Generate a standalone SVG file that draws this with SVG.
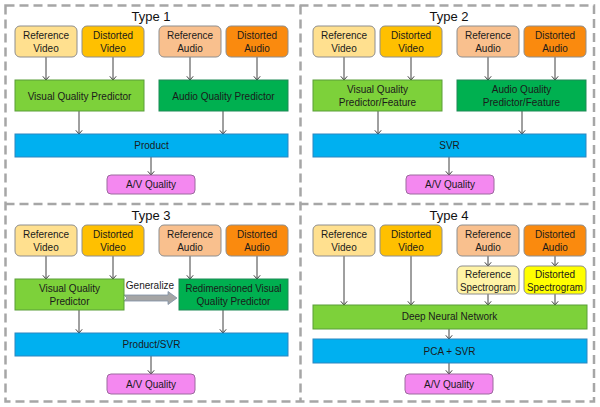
<svg xmlns="http://www.w3.org/2000/svg" width="600" height="407" viewBox="0 0 600 407">
  <style>
    .frame { fill: none; stroke: #A6A6A6; stroke-width: 2.5; stroke-dasharray: 9 5; }
    .title { font-family: "Liberation Sans", Arial, sans-serif; font-size: 13px; fill: #111; text-anchor: middle; }
    .lbl { font-family: "Liberation Sans", Arial, sans-serif; font-size: 10px; fill: #1a1a1a; text-anchor: middle; }
    .src { stroke: #8E8E8E; stroke-width: 1; }
    .refvid { fill: #FFE08F; }
    .distvid { fill: #FFC000; }
    .refaud { fill: #F9C08E; }
    .distaud { fill: #FA8A0E; }
    .refspec { fill: #FFF3A6; }
    .distspec { fill: #FFFF00; }
    .lgreen { fill: #7DD13A; stroke: #5A9E38; stroke-width: 1; }
    .dgreen { fill: #00B050; stroke: #1F8A56; stroke-width: 1; }
    .blue { fill: #00B0F0; stroke: #2C86C0; stroke-width: 1; }
    .av { fill: #F488F0; stroke: #9C6B9E; stroke-width: 1; }
    .conn line { stroke: #404040; stroke-width: 1; marker-end: url(#tip); }
  </style>
  <defs>
    <marker id="tip" markerWidth="8" markerHeight="8" refX="4.5" refY="4" orient="auto" markerUnits="userSpaceOnUse">
      <path d="M0.8,0.8 L4.5,4 L0.8,7.2" fill="none" stroke="#404040" stroke-width="1"/>
    </marker>
  </defs>

  <rect width="600" height="407" fill="#ffffff"/>

  <!-- dashed outer frame and quadrant dividers -->
  <g id="frame">
    <rect class="frame" x="5.5" y="5.5" width="588.5" height="396"/>
    <line class="frame" x1="300.5" y1="5.5" x2="300.5" y2="401.5"/>
    <line class="frame" x1="5.5" y1="204" x2="594" y2="204"/>
  </g>

  <!-- section titles -->
  <g id="titles">
    <text class="title" x="151" y="21">Type 1</text>
    <text class="title" x="449" y="21">Type 2</text>
    <text class="title" x="151" y="220">Type 3</text>
    <text class="title" x="449" y="220">Type 4</text>
  </g>

  <!-- connectors -->
  <g id="connectors" class="conn">
    <!-- Type 1 -->
    <line x1="46" y1="57" x2="46" y2="80"/>
    <line x1="113" y1="57" x2="113" y2="80"/>
    <line x1="190" y1="57" x2="190" y2="80"/>
    <line x1="257" y1="57" x2="257" y2="80"/>
    <line x1="79" y1="111" x2="79" y2="134"/>
    <line x1="223" y1="111" x2="223" y2="134"/>
    <line x1="151" y1="157" x2="151" y2="175"/>
    <!-- Type 2 -->
    <line x1="344" y1="57" x2="344" y2="80"/>
    <line x1="411" y1="57" x2="411" y2="80"/>
    <line x1="488" y1="57" x2="488" y2="80"/>
    <line x1="555" y1="57" x2="555" y2="80"/>
    <line x1="378" y1="111" x2="378" y2="134"/>
    <line x1="522" y1="111" x2="522" y2="134"/>
    <line x1="449" y1="157" x2="449" y2="175"/>
    <!-- Type 3 -->
    <line x1="46" y1="256" x2="46" y2="279"/>
    <line x1="113" y1="256" x2="113" y2="279"/>
    <line x1="190" y1="256" x2="190" y2="279"/>
    <line x1="257" y1="256" x2="257" y2="279"/>
    <line x1="79" y1="310" x2="79" y2="333"/>
    <line x1="223" y1="310" x2="223" y2="333"/>
    <line x1="151" y1="356" x2="151" y2="374"/>
    <!-- Type 4 -->
    <line x1="344" y1="256" x2="344" y2="305"/>
    <line x1="411" y1="256" x2="411" y2="305"/>
    <line x1="488" y1="256" x2="488" y2="266"/>
    <line x1="555" y1="256" x2="555" y2="266"/>
    <line x1="488" y1="294" x2="488" y2="305"/>
    <line x1="555" y1="294" x2="555" y2="305"/>
    <line x1="449" y1="329" x2="449" y2="339"/>
    <line x1="449" y1="363" x2="449" y2="374"/>
  </g>

  <!-- Type 3 block arrow -->
  <g id="generalize">
    <path d="M124,295 L168,295 L168,291.5 L177,298 L168,304.5 L168,301 L124,301 L127,298 Z" fill="#A5A5A5" stroke="#7F8FA6" stroke-width="0.8"/>
    <text class="lbl" x="150" y="289">Generalize</text>
  </g>

  <!-- ===== Type 1 ===== -->
  <g id="t1-ref-video"><rect class="src refvid" x="15" y="26" width="62" height="31" rx="5"/><text class="lbl" x="46" y="39.3">Reference</text><text class="lbl" x="46" y="52.3">Video</text></g>
  <g id="t1-dist-video"><rect class="src distvid" x="82" y="26" width="62" height="31" rx="5"/><text class="lbl" x="113" y="39.3">Distorted</text><text class="lbl" x="113" y="52.3">Video</text></g>
  <g id="t1-ref-audio"><rect class="src refaud" x="159" y="26" width="62" height="31" rx="5"/><text class="lbl" x="190" y="39.3">Reference</text><text class="lbl" x="190" y="52.3">Audio</text></g>
  <g id="t1-dist-audio"><rect class="src distaud" x="226" y="26" width="62" height="31" rx="5"/><text class="lbl" x="257" y="39.3">Distorted</text><text class="lbl" x="257" y="52.3">Audio</text></g>
  <g id="t1-vqp"><rect class="lgreen" x="15" y="80" width="129" height="31"/><text class="lbl" x="79.5" y="99.5">Visual Quality Predictor</text></g>
  <g id="t1-aqp"><rect class="dgreen" x="159" y="80" width="129" height="31"/><text class="lbl" x="223.5" y="99.5">Audio Quality Predictor</text></g>
  <g id="t1-product"><rect class="blue" x="15" y="134" width="273" height="23"/><text class="lbl" x="151.5" y="149.2">Product</text></g>
  <g id="t1-av"><rect class="av" x="107" y="175" width="88" height="19" rx="4"/><text class="lbl" x="151" y="188.3">A/V Quality</text></g>

  <!-- ===== Type 2 ===== -->
  <g id="t2-ref-video"><rect class="src refvid" x="313" y="26" width="62" height="31" rx="5"/><text class="lbl" x="344" y="39.3">Reference</text><text class="lbl" x="344" y="52.3">Video</text></g>
  <g id="t2-dist-video"><rect class="src distvid" x="380" y="26" width="62" height="31" rx="5"/><text class="lbl" x="411" y="39.3">Distorted</text><text class="lbl" x="411" y="52.3">Video</text></g>
  <g id="t2-ref-audio"><rect class="src refaud" x="457" y="26" width="62" height="31" rx="5"/><text class="lbl" x="488" y="39.3">Reference</text><text class="lbl" x="488" y="52.3">Audio</text></g>
  <g id="t2-dist-audio"><rect class="src distaud" x="524" y="26" width="62" height="31" rx="5"/><text class="lbl" x="555" y="39.3">Distorted</text><text class="lbl" x="555" y="52.3">Audio</text></g>
  <g id="t2-vqp"><rect class="lgreen" x="313" y="80" width="129" height="31"/><text class="lbl" x="377.5" y="93.3">Visual Quality</text><text class="lbl" x="377.5" y="106">Predictor/Feature</text></g>
  <g id="t2-aqp"><rect class="dgreen" x="457" y="80" width="129" height="31"/><text class="lbl" x="521.5" y="93.3">Audio Quality</text><text class="lbl" x="521.5" y="106">Predictor/Feature</text></g>
  <g id="t2-svr"><rect class="blue" x="313" y="134" width="273" height="23"/><text class="lbl" x="449.5" y="149.2">SVR</text></g>
  <g id="t2-av"><rect class="av" x="406" y="175" width="88" height="19" rx="4"/><text class="lbl" x="450" y="188.3">A/V Quality</text></g>

  <!-- ===== Type 3 ===== -->
  <g id="t3-ref-video"><rect class="src refvid" x="15" y="225" width="62" height="31" rx="5"/><text class="lbl" x="46" y="238.3">Reference</text><text class="lbl" x="46" y="251.3">Video</text></g>
  <g id="t3-dist-video"><rect class="src distvid" x="82" y="225" width="62" height="31" rx="5"/><text class="lbl" x="113" y="238.3">Distorted</text><text class="lbl" x="113" y="251.3">Video</text></g>
  <g id="t3-ref-audio"><rect class="src refaud" x="159" y="225" width="62" height="31" rx="5"/><text class="lbl" x="190" y="238.3">Reference</text><text class="lbl" x="190" y="251.3">Audio</text></g>
  <g id="t3-dist-audio"><rect class="src distaud" x="226" y="225" width="62" height="31" rx="5"/><text class="lbl" x="257" y="238.3">Distorted</text><text class="lbl" x="257" y="251.3">Audio</text></g>
  <g id="t3-vqp"><rect class="lgreen" x="15" y="279" width="109" height="31"/><text class="lbl" x="69.5" y="292.3">Visual Quality</text><text class="lbl" x="69.5" y="305.3">Predictor</text></g>
  <g id="t3-redim"><rect class="dgreen" x="179" y="279" width="109" height="31"/><text class="lbl" x="233.5" y="292.3" textLength="96" lengthAdjust="spacingAndGlyphs">Redimensioned Visual</text><text class="lbl" x="233.5" y="305.3">Quality Predictor</text></g>
  <g id="t3-product-svr"><rect class="blue" x="15" y="333" width="273" height="23"/><text class="lbl" x="151.5" y="348.2">Product/SVR</text></g>
  <g id="t3-av"><rect class="av" x="107" y="374" width="88" height="20" rx="4"/><text class="lbl" x="151" y="388">A/V Quality</text></g>

  <!-- ===== Type 4 ===== -->
  <g id="t4-ref-video"><rect class="src refvid" x="313" y="225" width="62" height="31" rx="5"/><text class="lbl" x="344" y="238.3">Reference</text><text class="lbl" x="344" y="251.3">Video</text></g>
  <g id="t4-dist-video"><rect class="src distvid" x="380" y="225" width="62" height="31" rx="5"/><text class="lbl" x="411" y="238.3">Distorted</text><text class="lbl" x="411" y="251.3">Video</text></g>
  <g id="t4-ref-audio"><rect class="src refaud" x="457" y="225" width="62" height="31" rx="5"/><text class="lbl" x="488" y="238.3">Reference</text><text class="lbl" x="488" y="251.3">Audio</text></g>
  <g id="t4-dist-audio"><rect class="src distaud" x="524" y="225" width="62" height="31" rx="5"/><text class="lbl" x="555" y="238.3">Distorted</text><text class="lbl" x="555" y="251.3">Audio</text></g>
  <g id="t4-ref-spec"><rect class="src refspec" x="457" y="266" width="62" height="28" rx="5"/><text class="lbl" x="488" y="278.3">Reference</text><text class="lbl" x="488" y="291" textLength="56" lengthAdjust="spacingAndGlyphs">Spectrogram</text></g>
  <g id="t4-dist-spec"><rect class="src distspec" x="524" y="266" width="62" height="28" rx="5"/><text class="lbl" x="555" y="278.3">Distorted</text><text class="lbl" x="555" y="291" textLength="56" lengthAdjust="spacingAndGlyphs">Spectrogram</text></g>
  <g id="t4-dnn"><rect class="lgreen" x="313" y="305" width="274" height="24"/><text class="lbl" x="449.5" y="320.3">Deep Neural Network</text></g>
  <g id="t4-pca-svr"><rect class="blue" x="313" y="339" width="274" height="24"/><text class="lbl" x="449.5" y="354.5">PCA + SVR</text></g>
  <g id="t4-av"><rect class="av" x="405" y="374" width="88" height="20" rx="4"/><text class="lbl" x="449" y="388">A/V Quality</text></g>
</svg>
